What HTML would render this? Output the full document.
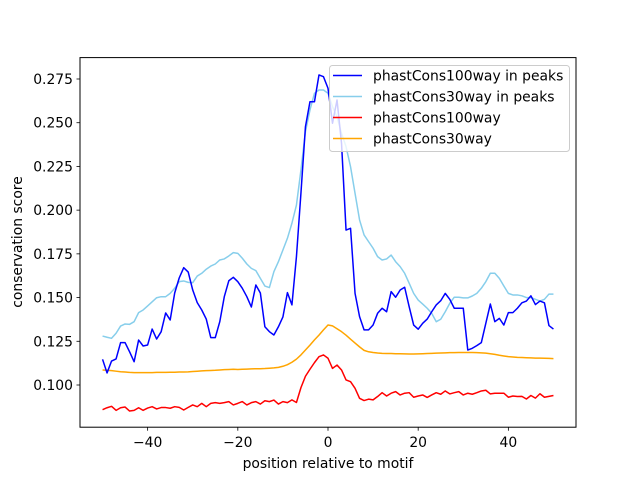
<!DOCTYPE html>
<html><head><meta charset="utf-8"><style>
html,body{margin:0;padding:0;background:#fff;}
svg{display:block;font-family:"DejaVu Sans","Liberation Sans",sans-serif;}
</style></head><body>
<svg id="chart" width="640" height="480" viewBox="0 0 640 480" xmlns="http://www.w3.org/2000/svg">
<rect width="640" height="480" fill="#fff"/>
<g id="plot"></g>
<rect x="80" y="57.6" width="496" height="369.6" fill="none" stroke="#000" stroke-width="1"/>
<g id="xticks"></g>
<g id="yticks"></g>
<text x="328" y="468" font-size="13.9" text-anchor="middle" fill="#000">position relative to motif</text>
<text x="22" y="242" font-size="13.9" text-anchor="middle" fill="#000" transform="rotate(-90 22 242)">conservation score</text>
<g id="legend"></g>
</svg>
<script>
const xStart = -50;
const blue100Peaks = [0.1147,0.1069,0.1137,0.1149,0.1242,0.1242,0.1190,0.1133,0.1257,0.1223,0.1229,0.1320,0.1263,0.1305,0.1412,0.1372,0.1526,0.1612,0.1671,0.1646,0.1543,0.1471,0.1429,0.1377,0.1271,0.1271,0.1362,0.1505,0.1596,0.1616,0.1591,0.1553,0.1505,0.1446,0.1572,0.1526,0.1333,0.1305,0.1286,0.1333,0.1389,0.1528,0.1458,0.1734,0.2098,0.2477,0.2620,0.2620,
0.2773,0.2763,0.2697,0.2497,0.2630,0.2382,0.1886,0.1896,0.1524,0.1391,0.1315,0.1315,0.1343,0.1410,0.1439,0.1419,0.1534,0.1502,0.1543,0.1559,0.1448,0.1343,0.1319,0.1353,0.1377,0.1419,0.1458,0.1482,0.1524,0.1490,0.1439,0.1439,0.1439,0.1200,0.1210,0.1225,0.1242,0.1353,0.1463,0.1362,0.1381,0.1343,0.1414,0.1414,0.1439,
0.1470,0.1480,0.1510,0.1460,0.1480,0.1470,0.1340,0.1320];
const sky30Peaks = [0.1280,0.1273,0.1267,0.1296,0.1337,0.1349,0.1347,0.1362,0.1414,0.1429,0.1452,0.1476,0.1499,0.1505,0.1505,0.1524,0.1553,0.1591,0.1595,0.1587,0.1585,0.1623,0.1639,0.1662,0.1680,0.1692,0.1715,0.1721,0.1738,0.1757,0.1753,0.1725,0.1692,0.1667,0.1654,0.1610,0.1566,0.1557,0.1648,0.1705,0.1772,0.1839,0.1925,0.2029,0.2230,0.2449,0.2573,0.2668,
0.2687,0.2687,0.2668,0.2592,0.2534,0.2439,0.2363,0.2248,0.2096,0.1944,0.1858,0.1820,0.1782,0.1734,0.1715,0.1721,0.1743,0.1705,0.1677,0.1639,0.1582,0.1524,0.1486,0.1463,0.1439,0.1410,0.1362,0.1376,0.1419,0.1467,0.1502,0.1502,0.1498,0.1498,0.1509,0.1524,0.1553,0.1591,0.1639,0.1639,0.1610,0.1566,0.1524,0.1515,0.1515,
0.1510,0.1500,0.1500,0.1490,0.1480,0.1490,0.1520,0.1520];
const red100 = [0.0859,0.0870,0.0878,0.0855,0.0870,0.0874,0.0851,0.0855,0.0870,0.0855,0.0868,0.0876,0.0863,0.0871,0.0871,0.0867,0.0876,0.0872,0.0857,0.0872,0.0886,0.0876,0.0895,0.0876,0.0895,0.0899,0.0895,0.0899,0.0905,0.0886,0.0895,0.0905,0.0886,0.0899,0.0905,0.0891,0.0910,0.0905,0.0914,0.0891,0.0905,0.0899,
0.0915,0.0900,0.0985,0.1050,0.1090,0.1128,0.1162,0.1172,0.1153,0.1095,0.1114,0.1086,0.1029,0.1019,0.0981,0.0924,0.0911,0.0919,0.0915,0.0934,0.0956,0.0937,0.0953,0.0962,0.0943,0.0953,0.0956,0.0930,0.0937,0.0943,0.0929,0.0943,0.0956,0.0947,0.0966,0.0949,0.0956,0.0962,0.0943,0.0953,0.0947,0.0956,0.0966,0.0970,0.0949,0.0953,0.0953,0.0953,0.0930,0.0937,0.0934,0.0935,0.0920,0.0940,0.0925,0.0950,0.0930,0.0935,0.0940];
const orange30 = [0.1086,0.1084,0.1082,0.1079,0.1076,0.1074,0.1072,0.1071,0.1071,0.1071,0.1071,0.1071,0.1072,0.1072,0.1072,0.1073,0.1073,0.1074,0.1074,0.1075,
0.1077,0.1079,0.1081,0.1082,0.1083,0.1084,0.1086,0.1088,0.1089,0.1090,0.1089,0.1090,0.1091,0.1092,0.1093,0.1093,0.1094,0.1096,0.1098,0.1101,
0.1107,0.1116,0.1130,0.1148,0.1172,0.1200,0.1228,0.1258,0.1285,0.1315,0.1343,0.1338,0.1322,0.1305,0.1285,0.1262,0.1240,0.1218,0.1198,0.1190,
0.1186,0.1183,0.1181,0.1180,0.1180,0.1179,0.1179,0.1178,0.1177,0.1177,0.1178,0.1179,0.1180,0.1181,0.1182,0.1183,0.1184,0.1185,0.1185,0.1186,
0.1186,0.1186,0.1186,0.1185,0.1184,0.1182,0.1179,0.1175,0.1170,0.1166,0.1162,0.1160,0.1158,0.1157,0.1156,0.1155,0.1154,0.1154,0.1153,0.1152,0.1151];
const xTickVals = [-40,-20,0,20,40];
const yTickVals = [0.100,0.125,0.150,0.175,0.200,0.225,0.250,0.275];
const yTickLabels = ["0.100","0.125","0.150","0.175","0.200","0.225","0.250","0.275"];
const seriesNames = ["phastCons100way in peaks","phastCons30way in peaks","phastCons100way","phastCons30way"];

const NS = "http://www.w3.org/2000/svg";
function xs(v){ return 80 + (v + 55) * (496/110); }
function ys(v){ return 385 - (v - 0.1) * 1748.6; }
function mk(tag, attrs, parent){ const e = document.createElementNS(NS, tag); for (const k in attrs) e.setAttribute(k, attrs[k]); parent.appendChild(e); return e; }

const plot = document.getElementById('plot');
const seriesList = [[red100,'#ff0000','series-phastcons100way'],[orange30,'#ffa500','series-phastcons30way'],[sky30Peaks,'#87ceeb','series-phastcons30way-in-peaks'],[blue100Peaks,'#0000ff','series-phastcons100way-in-peaks']];
seriesList.forEach(s => {
  const pts = s[0].map((v,i) => xs(xStart+i).toFixed(2)+','+ys(v).toFixed(2)).join(' ');
  const pl = mk('polyline', {points: pts, fill:'none', stroke:s[1], 'stroke-width':1.5, 'stroke-linejoin':'round'}, plot);
  
  
});

const xg = document.getElementById('xticks');
xTickVals.forEach(v => {
  const t = mk('line', {x1:xs(v), x2:xs(v), y1:427.2, y2:430.7, stroke:'#000', 'stroke-width':0.8}, xg);
  
  
  const l = mk('text', {x:xs(v), y:447, 'font-size':13.9, 'text-anchor':'middle', fill:'#000'}, xg);
  l.textContent = (v<0 ? '\u2212'+(-v) : String(v));
  
  
});
const yg = document.getElementById('yticks');
yTickVals.forEach((v,i) => {
  const t = mk('line', {x1:76.5, x2:80, y1:ys(v), y2:ys(v), stroke:'#000', 'stroke-width':0.8}, yg);
  
  
  const l = mk('text', {x:73, y:ys(v)+5, 'font-size':13.9, 'text-anchor':'end', fill:'#000'}, yg);
  l.textContent = yTickLabels[i];
  
  
});

const lg = document.getElementById('legend');
const box = mk('rect', {x:329.5, y:65.5, width:240, height:86, rx:3, fill:'#fff', 'fill-opacity':0.8, stroke:'#cccccc', 'stroke-width':1}, lg);


const legColors = ['#0000ff','#87ceeb','#ff0000','#ffa500'];
seriesNames.forEach((n,i) => {
  const y = 75.5 + i*21;
  const ln = mk('line', {x1:333, x2:362, y1:y, y2:y, stroke:legColors[i], 'stroke-width':1.5}, lg);
  
  
  const t = mk('text', {x:373, y:y+5, 'font-size':13.9, fill:'#000'}, lg);
  t.textContent = n;
  
  
});
</script>
</body></html>
